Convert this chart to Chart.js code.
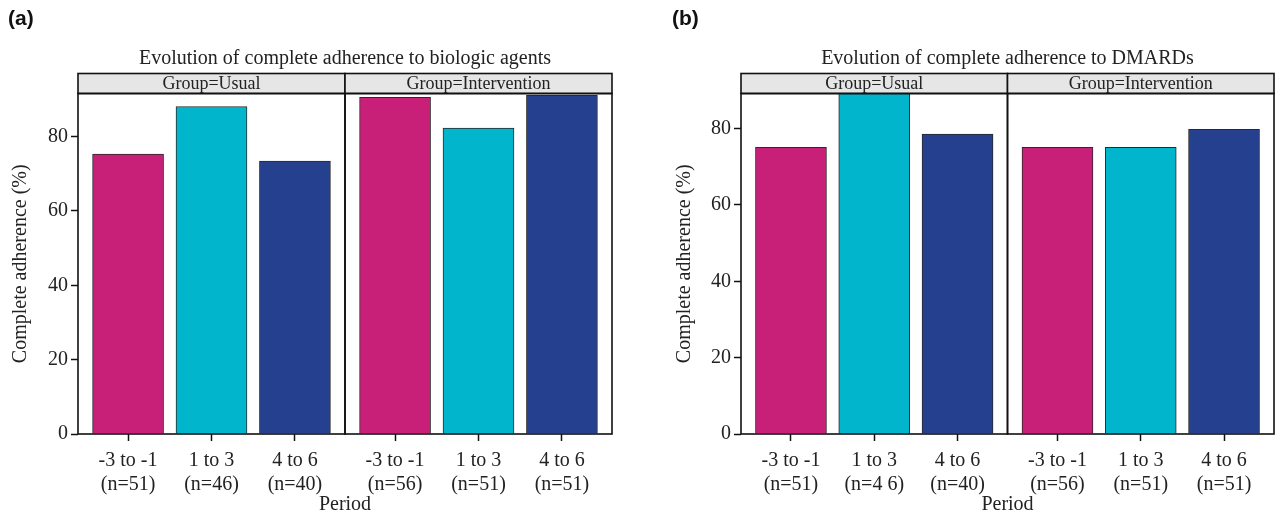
<!DOCTYPE html>
<html>
<head>
<meta charset="utf-8">
<script src="https://cdn.jsdelivr.net/npm/chart.js@4.4.1/dist/chart.umd.min.js"></script>
<style>
  body { margin: 0; background: #fff; }
  #wrap { display: flex; width: 1280px; height: 512px; }
  .panel { position: relative; width: 640px; height: 512px; }
  .tag { position: absolute; top: 6px; font: bold 21px "Liberation Sans", Arial, sans-serif; color: #111; }
</style>
</head>
<body>
<div id="wrap">
  <div class="panel"><div class="tag" style="left:8px">(a)</div><canvas id="chartA" width="640" height="512"></canvas></div>
  <div class="panel"><div class="tag" style="left:32px">(b)</div><canvas id="chartB" width="640" height="512"></canvas></div>
</div>
<script>
// Complete adherence by period, two facets (Usual / Intervention)

const periods = ['-3 to -1', '1 to 3', '4 to 6'];
const groups = ['Group=Usual', 'Group=Intervention'];
const nBiologic = ['(n=51)', '(n=46)', '(n=40)', '(n=56)', '(n=51)', '(n=51)'];
const nDmards = ['(n=51)', '(n=4 6)', '(n=40)', '(n=56)', '(n=51)', '(n=51)'];

// values in %, Usual x3 then Intervention x3
const biologicValues = [75.3, 88.1, 73.4, 90.6, 82.3, 91.1];
const dmardValues = [75.1, 91.3, 78.6, 75.1, 75.1, 79.8];

const yTicks = [0, 20, 40, 60, 80];
const barColors = ['#C81F78', '#00B5CC', '#25408F'];

const FONT = '"Liberation Serif", "DejaVu Serif", serif';
const INK = '#222';

// each facet spans 3.2 units (3 bars + 0.6 expansion either side)
function xPos(i) {
  const facet = Math.floor(i / 3);
  return facet * 3.2 + (i % 3) + 1;
}

// draws facet strips and panel borders
const facetPlugin = {
  id: 'facets',
  afterDraw(chart) {
    const { ctx, chartArea, scales } = chart;
    const stripH = 20;
    const edges = [0.4, 3.6, 6.8].map(v => scales.x.getPixelForValue(v));
    ctx.save();
    for (let p = 0; p < 2; p++) {
      const x0 = edges[p], x1 = edges[p + 1];
      ctx.fillStyle = '#E6E6E6';
      ctx.fillRect(x0, chartArea.top - stripH, x1 - x0, stripH);
      ctx.strokeStyle = '#111';
      ctx.lineWidth = 1.6;
      ctx.strokeRect(x0, chartArea.top - stripH, x1 - x0, stripH);
      ctx.strokeRect(x0, chartArea.top, x1 - x0, chartArea.bottom - chartArea.top);
      ctx.fillStyle = INK;
      ctx.font = '18px ' + FONT;
      ctx.textAlign = 'center';
      ctx.textBaseline = 'middle';
      ctx.fillText(groups[p], (x0 + x1) / 2, chartArea.top - stripH / 2 + 1);
    }
    ctx.restore();
  }
};

function makeChart(id, title, values, nLabels, yMax, padLeft, padRight, yWidth) {
  const ctx = document.getElementById(id).getContext('2d');
  return new Chart(ctx, {
    type: 'bar',
    data: {
      datasets: [{
        data: values.map((v, i) => ({ x: xPos(i), y: v })),
        backgroundColor: values.map((v, i) => barColors[i % 3]),
        borderColor: '#2a2a2a',
        borderWidth: 1,
        barThickness: 71
      }]
    },
    options: {
      responsive: false,
      animation: false,
      layout: { padding: { left: padLeft, right: padRight, top: 0, bottom: 0 } },
      plugins: {
        legend: { display: false },
        tooltip: { enabled: false },
        title: {
          display: true,
          fullSize: false,
          text: title,
          color: INK,
          font: { family: FONT, size: 20, weight: 'normal' },
          padding: { top: 47, bottom: 22.5 }
        }
      },
      scales: {
        x: {
          type: 'linear',
          offset: false,
          min: 0.4,
          max: 6.8,
          afterBuildTicks: s => { s.ticks = values.map((v, i) => ({ value: xPos(i) })); },
          afterFit: s => { s.height = 78; s.paddingLeft = 0; s.paddingRight = 0; },
          ticks: {
            autoSkip: false,
            maxRotation: 0,
            padding: 8,
            color: INK,
            font: { family: FONT, size: 20 },
            callback: (v, i) => [periods[i % 3], nLabels[i]]
          },
          grid: { offset: false, drawOnChartArea: false, tickLength: 7, tickColor: '#111', tickWidth: 1.5 },
          border: { display: false },
          title: {
            display: true,
            text: 'Period',
            color: INK,
            font: { family: FONT, size: 20, lineHeight: 1 },
            padding: { top: 0, bottom: -3 }
          }
        },
        y: {
          min: 0,
          max: yMax,
          afterBuildTicks: s => { s.ticks = yTicks.map(v => ({ value: v })); },
          afterFit: s => { s.width = yWidth; s.paddingTop = 0; s.paddingBottom = 0; },
          ticks: { padding: 3, color: INK, font: { family: FONT, size: 20 } },
          grid: { drawOnChartArea: false, tickLength: 7, tickColor: '#111', tickWidth: 1.5 },
          border: { display: false },
          title: {
            display: true,
            text: 'Complete adherence (%)',
            color: INK,
            font: { family: FONT, size: 20 },
            padding: { top: 9, bottom: 0 }
          }
        }
      }
    },
    plugins: [facetPlugin]
  });
}

makeChart('chartA', 'Evolution of complete adherence to biologic agents', biologicValues, nBiologic, 91.6, 0, 28, 78);
makeChart('chartB', 'Evolution of complete adherence to DMARDs', dmardValues, nDmards, 89.2, 24, 6, 77);
</script>
</body>
</html>
